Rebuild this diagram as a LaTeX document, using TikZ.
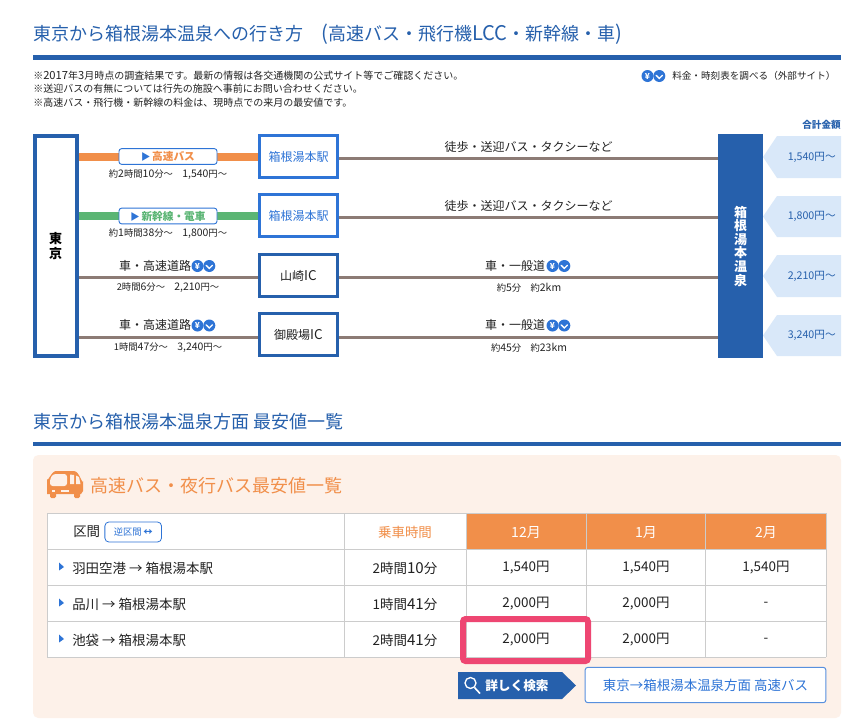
\documentclass[tikz,border=0pt]{standalone}
\usepackage{fontspec}
\setmainfont{Noto Sans CJK JP}
\newfontfamily\ltnfam[Scale=1.12]{Noto Sans CJK JP}
\usepackage{xcolor}
\usetikzlibrary{positioning, calc, shapes.geometric}
\definecolor{deepblue}{HTML}{2660AC}
\definecolor{midblue}{HTML}{2E74D6}
\definecolor{palesky}{HTML}{D9E8F9}
\definecolor{busorange}{HTML}{F18F4A}
\definecolor{railgreen}{HTML}{5BB574}
\definecolor{roadbrown}{HTML}{8C7B75}
\definecolor{panelcream}{HTML}{FDF1E9}
\definecolor{gridgrey}{HTML}{CCCCCC}
\definecolor{markpink}{HTML}{EE4672}
\definecolor{inkgrey}{HTML}{222222}
% digits and latin letters run a little wider than the CJK font gives them
\newXeTeXintercharclass\ltnclass
\newcount\chidx
\newcommand{\ltnrange}[2]{\chidx=#1\relax
  \loop \XeTeXcharclass\chidx=\ltnclass \ifnum\chidx<#2\relax \advance\chidx by 1 \repeat}
\ltnrange{`0}{`9}
\ltnrange{`a}{`z}
\ltnrange{`A}{`Z}
\ltnrange{`,}{`,}
\ltnrange{`(}{`)}
\ltnrange{`-}{`-}
\XeTeXinterchartokenstate=1
\XeTeXinterchartoks 0 \ltnclass = {\ltnfam}
\XeTeXinterchartoks 255 \ltnclass = {\ltnfam}
\XeTeXinterchartoks \ltnclass 0 = {\rmfamily}
\newcommand{\sizeA}{\fontsize{13.5pt}{16pt}\selectfont}
\newcommand{\sizeB}{\fontsize{10.1pt}{12pt}\selectfont}
\newcommand{\sizeC}{\fontsize{9pt}{11pt}\selectfont}
\newcommand{\sizeD}{\fontsize{7.5pt}{10pt}\selectfont}
\newcommand{\sizeE}{\fontsize{7pt}{10pt}\selectfont}
\tikzset{
  txt/.style={inner sep=0pt, text=inkgrey},
  heading/.style={txt, anchor=west, font=\sizeA, text=deepblue},
  rule/.style={fill=deepblue, draw=none},
  note/.style={txt, anchor=west, font=\sizeD},
  sub/.style={txt, font=\sizeE},
  roadtxt/.style={txt, font=\sizeC},
  endbox/.style={minimum width=33.75pt, minimum height=168pt, inner sep=0pt, align=center},
  stopbox/.style={draw=midblue, line width=2.25pt, fill=white, minimum width=58.5pt, minimum height=31.5pt, inner sep=0pt, font=\sizeC, text=midblue},
  icstop/.style={stopbox, draw=deepblue, text=inkgrey},
  pill/.style={draw=midblue, line width=.7pt, fill=white, rounded corners=2pt, minimum width=73.5pt, minimum height=11.8pt, inner sep=0pt, font=\bfseries\fontsize{8pt}{10pt}\selectfont},
  road/.style={draw=roadbrown, line width=2.25pt},
  cell/.style={txt, font=\sizeB},
  month/.style={txt, font=\fontsize{10.5pt}{12pt}\selectfont, text=white},
  farecirc/.style={circle, fill=midblue, minimum size=9pt, inner sep=0pt, text=white, font=\bfseries\fontsize{6.2pt}{7pt}\selectfont},
  pics/fareicons/.style={code={
    \node[farecirc] (-yen) at (0,0) {¥};
    \node[farecirc] (-chk) at (11.8,0) {};
    \draw[white, line width=1pt, line cap=round] (8.7,-.6) -- (11.8,2.4) -- (14.9,-.6);
  }}
}
\begin{document}
\begin{tikzpicture}[x=0.75pt, y=-0.75pt]
\useasboundingbox (0,0) rectangle (853,718);
\fill[white] (0,0) rectangle (853,718);
%header
\node[heading] (title) at (33,34.5) {東京から箱根湯本温泉への行き方　(高速バス・飛行機LCC・新幹線・車)};
\fill[rule] (33,55) rectangle (841,60);
\node[note] (note1) at (33,75.5) {※2017年3月時点の調査結果です。最新の情報は各交通機関の公式サイト等でご確認ください。};
\node[note] (note2) at (33,89) {※送迎バスの有無については行先の施設へ事前にお問い合わせください。};
\node[note] (note3) at (33,102.5) {※高速バス・飛行機・新幹線の料金は、現時点での来月の最安値です。};
\pic (legend) at (647.5,76) {fareicons};
\node[note, font=\fontsize{7.2pt}{10pt}\selectfont] (legendtxt) at (672,75.5) {料金・時刻表を調べる（外部サイト）};
%routes
\node[endbox, draw=deepblue, line width=3pt, fill=white, minimum width=31.5pt, minimum height=165pt, font=\bfseries\fontsize{9.75pt}{10.6pt}\selectfont, text=black] (tokyo) at (55.5,246) {東\\京};
\node[endbox, fill=deepblue, text=white, font=\bfseries\fontsize{9.75pt}{10.2pt}\selectfont] (hakone) at (740.5,246) {箱\\根\\湯\\本\\温\\泉};
\node[stopbox] (st1) at (298.5,156.5) {箱根湯本駅};
\node[stopbox, below=10.5pt of st1] (st2) {箱根湯本駅};
\node[icstop] (ic1) at (298.5,275.5) {山崎IC};
\node[icstop, below=10.5pt of ic1] (ic2) {御殿場IC};
\draw[busorange, line width=6pt] (tokyo.east |- st1.west) -- (st1.west);
\draw[railgreen, line width=6pt] (tokyo.east |- st2.west) -- (st2.west);
\draw[road] ($(st1.east)+(0,1.5)$) -- ($(st1.east -| hakone.west)+(0,1.5)$);
\draw[road] ($(st2.east)+(0,2)$) -- ($(st2.east -| hakone.west)+(0,2)$);
\draw[road] ($(tokyo.east |- ic1.west)+(0,1.5)$) -- ($(ic1.west)+(0,1.5)$);
\draw[road] ($(ic1.east)+(0,1.5)$) -- ($(ic1.east -| hakone.west)+(0,1.5)$);
\draw[road] ($(tokyo.east |- ic2.west)+(0,2.5)$) -- ($(ic2.west)+(0,2.5)$);
\draw[road] ($(ic2.east)+(0,2.5)$) -- ($(ic2.east -| hakone.west)+(0,2.5)$);
\node[pill, text=busorange] (bus) at (168,156.5) {\textcolor{midblue}{\fontsize{7pt}{8pt}\selectfont ▶}\,高速バス};
\node[pill, text=railgreen] (rail) at (168,216) {\textcolor{midblue}{\fontsize{7pt}{8pt}\selectfont ▶}\,新幹線・電車};
\node[sub] (bustime) at (168,174.5) {約2時間10分〜　1,540円〜};
\node[sub] (railtime) at (168,234) {約1時間38分〜　1,800円〜};
\node[roadtxt] (walk1) at (528.5,146.5) {徒歩・送迎バス・タクシーなど};
\node[roadtxt] (walk2) at (528.5,206) {徒歩・送迎バス・タクシーなど};
\foreach \nm/\lbly/\suby/\tma/\tmb in {r/265.5/288/{2時間6分〜　2,210円〜}/約5分　約2km, s/325/347.5/{1時間47分〜　3,240円〜}/約45分　約23km}{
  \node[roadtxt] (hw\nm) at (155,\lbly) {車・高速道路};
  \pic (hwfare\nm) at (197.5,\lbly+.5) {fareicons};
  \node[roadtxt] (lo\nm) at (515,\lbly) {車・一般道};
  \pic (lofare\nm) at (552.5,\lbly+.5) {fareicons};
  \node[sub] (hwtime\nm) at (168,\suby) {\tma};
  \node[sub] (lotime\nm) at (529,\suby) {\tmb};
}
\node[txt, anchor=east, font=\bfseries\fontsize{7.2pt}{9pt}\selectfont, text=deepblue] (total) at (841,125) {合計金額};
\foreach \nm/\ya/\yb/\amt in {a/136/178/{1,540円〜}, b/196/237/{1,800円〜}, c/255/297/{2,210円〜}, d/315/356/{3,240円〜}}{
  \fill[palesky] (763,{(\ya+\yb)/2}) -- (777,\ya) -- (841,\ya) -- (841,\yb) -- (777,\yb) -- cycle;
  \node[txt, anchor=east, font=\fontsize{8pt}{10pt}\selectfont, text=deepblue] (price\nm) at (836,{(\ya+\yb)/2}) {\amt};
}
%fare table
\node[heading] (title2) at (33,421.5) {東京から箱根湯本温泉方面 最安値一覧};
\fill[rule] (33,442) rectangle (841,446);
\fill[panelcream, rounded corners=4pt] (33,455) rectangle (841,718);
%bus icon
\fill[busorange] (47,494) -- (47,479) to[out=-90, in=180] (56,471) -- (74,471) to[out=0, in=-90] (83,481) -- (83,491) -- (81,494) -- cycle;
\fill[busorange, rounded corners=1pt] (50,490) rectangle (56,498);
\fill[busorange, rounded corners=1pt] (74,490) rectangle (80,498);
\fill[panelcream, rounded corners=2pt] (50,486) -- (50,479) -- (53,474) -- (67,474) -- (67,486) -- cycle;
\fill[panelcream] (70,474.5) -- (74,475) -- (74,484) -- (70,484) -- cycle;
\fill[panelcream] (76,475.5) -- (79,477) -- (80.5,484) -- (76,484) -- cycle;
\fill[panelcream] (52,490) rectangle (55,492);
\fill[panelcream] (61,490) rectangle (69,491.5);
\node[heading, text=busorange] (title3) at (90,485.5) {高速バス・夜行バス最安値一覧};
\fill[white] (47,513) rectangle (826,657);
\fill[busorange] (466,513) rectangle (826,549);
\foreach \x in {47,344,466,586,705.5,826}
  \draw[gridgrey, line width=.75pt] (\x,513) -- (\x,657);
\foreach \y in {513,549,585,621,657}
  \draw[gridgrey, line width=.75pt] (47,\y) -- (826,\y);
\node[cell, anchor=west] (sect) at (73,532) {区間};
\node[draw=midblue, line width=.6pt, rounded corners=3pt, fill=white, minimum width=42.5pt, minimum height=15pt, inner sep=0pt, text=midblue, font=\sizeE, right=3pt of sect] (rev) {逆区間\,{\bfseries ↔}};
\node[cell, text=busorange] (ride) at (405,532) {乗車時間};
\node[month] (dec) at (526,532.5) {12月};
\node[month] (jan) at (646,532.5) {1月};
\node[month] (feb) at (766,532.5) {2月};
\foreach \nm/\y/\route/\ride/\pa/\pb/\pc in {
  h/567/羽田空港 → 箱根湯本駅/2時間10分/{1,540円}/{1,540円}/{1,540円},
  q/603/品川 → 箱根湯本駅/1時間41分/{2,000円}/{2,000円}/-,
  k/639/池袋 → 箱根湯本駅/2時間41分/{2,000円}/{2,000円}/-}{
  \fill[midblue] (59,\y-4.5) -- (64,\y) -- (59,\y+3.5) -- cycle;
  \node[cell, anchor=west] (route\nm) at (72,\y+1) {\route};
  \node[cell] (time\nm) at (405,\y+1) {\ride};
  \node[cell] (dec\nm) at (526,\y+1) {\pa};
  \node[cell] (jan\nm) at (646,\y+1) {\pb};
  \node[cell] (feb\nm) at (766,\y+1) {\pc};
}
\draw[markpink, line width=4.5pt, rounded corners=2pt] (463,619) rectangle (588,661);
%buttons
\fill[deepblue] (458,672) -- (562,672) -- (576,685.5) -- (562,699) -- (458,699) -- cycle;
\draw[white, line width=1pt] (470.5,683) circle[radius=5.5];
\draw[white, line width=1.2pt] (474.5,687.5) -- (480,693.5);
\node[txt, anchor=west, text=white, font=\bfseries\fontsize{9.5pt}{11pt}\selectfont] (more) at (485,685.5) {詳しく検索};
\node[draw=midblue!80, line width=.75pt, rounded corners=2pt, fill=white, minimum width=180.5pt, minimum height=26.5pt, inner sep=0pt, text=midblue, font=\sizeB] (link) at (705.5,685) {東京→箱根湯本温泉方面 高速バス};
\end{tikzpicture}
\end{document}
